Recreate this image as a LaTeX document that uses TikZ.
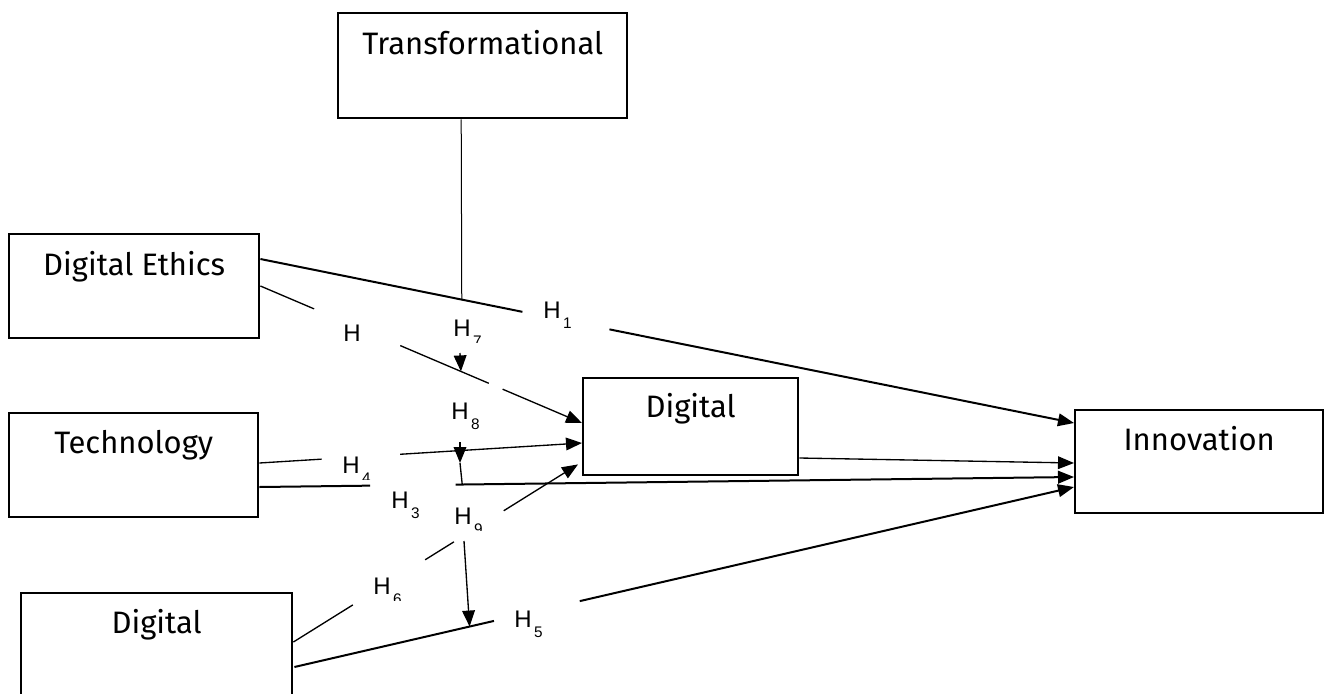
\documentclass[tikz,border=0pt]{standalone}
\usepackage{fontspec}
\setmainfont{Fira Sans}
\newfontfamily\labfont{Liberation Sans}
\usetikzlibrary{arrows.meta,calc}
\begin{document}
\begin{tikzpicture}[x=0.75pt,y=-0.75pt,
  box/.style 2 args={draw,line width=1.8pt,anchor=north west,inner sep=0pt,
    minimum width=#1*0.75pt,minimum height=#2*0.75pt},
  boxtext/.style={anchor=base,inner sep=0pt,font=\fontsize{23.25}{28}\selectfont},
  hyp/.style={anchor=base west,inner sep=0pt,font=\labfont\fontsize{18}{20}\selectfont},
  hsub/.style={anchor=base west,inner sep=0pt,font=\labfont\fontsize{11.5}{13}\selectfont},
  heavy/.style={line width=1.5pt},
  light/.style={line width=1pt},
  tip/.style={-{Triangle[length=12pt,width=9.5pt]}},
]
\useasboundingbox (0,0) rectangle (1325,693);
\clip (0,0) rectangle (1325,693);

% ---- construct boxes ----
\node[box={289}{105}] (trans)  at (337,12)  {};
\node[box={250}{104}] (de)     at (8,233)   {};
\node[box={249}{104}] (tech)   at (8,412)   {};
\node[box={271}{140}] (digbot) at (20,592)  {};
\node[box={215}{97}]  (digmid) at (582,377) {};
\node[box={248}{103}] (inn)    at (1074,409) {};

\node[boxtext] (transT)  at ($(trans.north)+(0,42)$)  {Transformational};
\node[boxtext] (deT)     at ($(de.north)+(0,42)$)     {Digital Ethics};
\node[boxtext] (techT)   at ($(tech.north)+(0,41)$)   {Technology};
\node[boxtext] (digbotT) at ($(digbot.north)+(0,41)$) {Digital};
\node[boxtext] (digmidT) at ($(digmid.north)+(0,40)$) {Digital};
\node[boxtext] (innT)    at ($(inn.north)+(0,41)$)    {Innovation};

% ---- path end points on the box borders ----
\coordinate (l1a) at ($(de.north east)+(0,26)$);
\coordinate (l1b) at ($(inn.north west)+(0,14)$);
\coordinate (l2a) at ($(de.north east)+(0,53)$);
\coordinate (l2b) at ($(digmid.north west)+(0,46)$);
\coordinate (l3a) at ($(tech.north east)+(0,51)$);
\coordinate (l3b) at ($(digmid.north west)+(0,66)$);
\coordinate (l4a) at ($(tech.north east)+(0,75)$);
\coordinate (l4b) at ($(inn.north west)+(0,68)$);
\coordinate (l5a) at ($(digmid.north east)+(0,81)$);
\coordinate (l5b) at ($(inn.north west)+(0,54)$);
\coordinate (l6a) at ($(digbot.north east)+(0,50)$);
\coordinate (l6b) at ($(digmid.south west)+(-4,-12)$);
\coordinate (l7a) at ($(digbot.north east)+(1,75)$);
\coordinate (l7b) at ($(inn.north west)+(0,78)$);

% ---- main paths, broken where the labels sit ----
\draw[heavy] (l1a) -- ($(l1a)!0.322!(l1b)$);
\draw[heavy,tip] ($(l1a)!0.429!(l1b)$) -- (l1b);

\draw[light] (l2a) -- ($(l2a)!0.167!(l2b)$);
\draw[light] ($(l2a)!0.435!(l2b)$) -- ($(l2a)!0.710!(l2b)$);
\draw[light,tip] ($(l2a)!0.753!(l2b)$) -- (l2b);

\draw[light] (l3a) -- ($(l3a)!0.193!(l3b)$);
\draw[light,tip] ($(l3a)!0.436!(l3b)$) -- (l3b);

\draw[heavy] (l4a) -- ($(l4a)!0.136!(l4b)$);
\draw[heavy,tip] ($(l4a)!0.241!(l4b)$) -- (l4b);

\draw[light,tip] (l5a) -- (l5b);

\draw[light] (l6a) -- ($(l6a)!0.209!(l6b)$);
\draw[light] ($(l6a)!0.463!(l6b)$) -- ($(l6a)!0.564!(l6b)$);
\draw[light,tip] ($(l6a)!0.739!(l6b)$) -- (l6b);

\draw[heavy] (l7a) -- ($(l7a)!0.256!(l7b)$);
\draw[heavy,tip] ($(l7a)!0.366!(l7b)$) -- (l7b);

% ---- moderating effects ----
\draw[line width=0.75pt] ($(trans.south)+(-21.5,0)$) -- ($(l1a)!0.2475!(l1b)$);

\coordinate (h7a) at (460,353);
\draw[light,tip] (h7a) -- ($(l2a)!0.6235!(l2b)$);

\coordinate (h8a) at (460,442);
\coordinate (h8b) at (460,463);
\draw[light,tip] (h8a) -- (h8b);
\draw[light] (h8b) -- ($(l4a)!0.249!(l4b)$);

\coordinate (h9a) at (464,541);
\draw[light,tip] (h9a) -- ($(l7a)!0.2247!(l7b)$);

% ---- hypothesis labels ----
\node[hyp] (h1) at (543,318) {H};
\node[hsub] (h1n) at ($(h1.base east)+(2,10)$) {1};
\node[hyp] (h2) at (343,341) {H};
\node[hyp] (h7) at (453,336) {H};
\node[hyp] (h8) at (451,419) {H};
\node[hsub] (h8n) at ($(h8.base east)+(2,10)$) {8};
\node[hyp] (h4) at (342,473) {H};
\node[hyp] (h3) at (391,508) {H};
\node[hsub] (h3n) at ($(h3.base east)+(2,10)$) {3};
\node[hyp] (h9) at (454,524) {H};
\node[hyp] (h6) at (373,594) {H};
\node[hyp] (h5) at (514,627) {H};
\node[hsub] (h5n) at ($(h5.base east)+(2,10)$) {5};

% subscripts cut off by their text frames
\foreach \h/\n in {h7/7,h4/4,h9/9,h6/6}{
  \begin{scope}
    \clip ($(\h.base east)+(0,-20)$) rectangle ($(\h.base east)+(20,6)$);
    \node[hsub] (\h n) at ($(\h.base east)+(2,10)$) {\n};
  \end{scope}
}
\end{tikzpicture}
\end{document}
